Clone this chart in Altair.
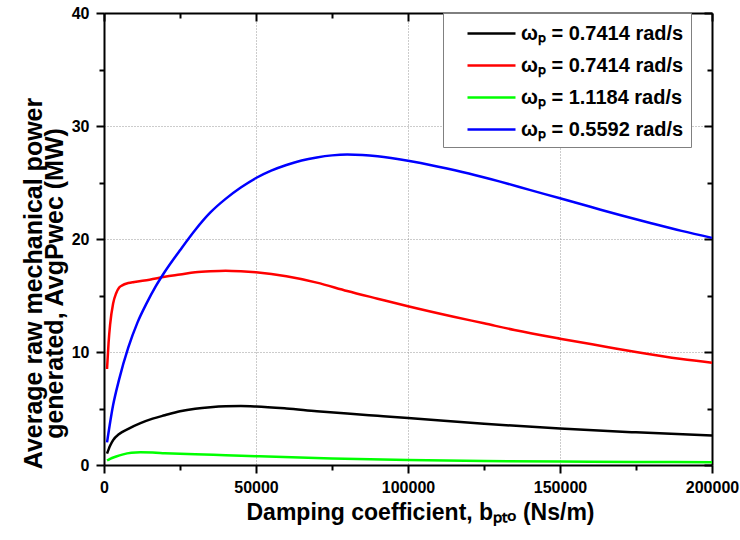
import altair as alt
import pandas as pd

# Damping coefficient b_pto (Ns/m) and average mechanical power (MW) for each sea state
b_black = [1000, 2000, 3000, 5000, 8000, 12000, 16000, 20000, 25000, 30000, 35000, 40000,
           45000, 50000, 60000, 70000, 80000, 90000, 100000, 125000, 150000, 175000, 200000]
p_black = [1.0, 1.7, 2.2, 2.75, 3.2, 3.7, 4.1, 4.4, 4.75, 4.98, 5.12, 5.2,
           5.22, 5.18, 5.0, 4.76, 4.55, 4.36, 4.17, 3.65, 3.22, 2.89, 2.6]

b_red = [1000, 1500, 2000, 3000, 4000, 5000, 6000, 8000, 10000, 15000, 20000, 25000,
         30000, 35000, 40000, 45000, 50000, 60000, 70000, 80000, 90000, 100000, 115000,
         125000, 135000, 150000, 165000, 175000, 190000, 200000]
p_red = [8.5, 10.8, 12.4, 14.3, 15.2, 15.7, 15.9, 16.1, 16.2, 16.4, 16.65, 16.85,
         17.05, 17.15, 17.2, 17.15, 17.05, 16.7, 16.14, 15.4, 14.72, 14.05, 13.12,
         12.54, 11.95, 11.18, 10.47, 10.0, 9.38, 9.05]

b_green = [1000, 2000, 4000, 6000, 9000, 12000, 16000, 20000, 30000, 40000, 50000,
           75000, 100000, 125000, 150000, 175000, 200000]
p_green = [0.4, 0.55, 0.75, 0.92, 1.08, 1.12, 1.1, 1.05, 0.95, 0.87, 0.78,
           0.58, 0.44, 0.36, 0.30, 0.27, 0.24]

b_blue = [1000, 3000, 5000, 8000, 11000, 14000, 17000, 20000, 25000, 30000, 35000, 40000,
          45000, 50000, 55000, 60000, 65000, 70000, 75000, 80000, 85000, 90000, 100000,
          110000, 120000, 130000, 140000, 150000, 160000, 170000, 180000, 190000, 200000]
p_blue = [2.0, 5.3, 7.6, 10.4, 12.6, 14.3, 15.8, 17.1, 19.0, 20.8, 22.35, 23.55,
          24.55, 25.4, 26.05, 26.55, 26.95, 27.22, 27.4, 27.47, 27.43, 27.32, 26.93,
          26.4, 25.8, 25.1, 24.35, 23.6, 22.85, 22.1, 21.4, 20.72, 20.1]

series_keys = ["s1", "s2", "s3", "s4"]
series_labels = ["ωₚ = 0.7414 rad/s", "ωₚ = 0.7414 rad/s",
                 "ωₚ = 1.1184 rad/s", "ωₚ = 0.5592 rad/s"]
series_colors = ["#000000", "#ff0000", "#00ff00", "#0000ff"]

x_major = [0, 50000, 100000, 150000, 200000]
x_minor = [25000, 75000, 125000, 175000]
y_major = [0, 10, 20, 30, 40]
y_minor = [5, 15, 25, 35]

W, H = 608, 452
FONT = "Liberation Sans"
PAD_RIGHT = "\u00a0" * 4  # extra room on the right side of the legend box

frames = [
    pd.DataFrame({"b": b, "p": p, "series": k})
    for k, b, p in zip(series_keys,
                       [b_black, b_red, b_green, b_blue],
                       [p_black, p_red, p_green, p_blue])
]

x_scale = alt.Scale(domain=[0, 200000], nice=False, zero=False)
y_scale = alt.Scale(domain=[0, 40], nice=False)
color_scale = alt.Scale(domain=series_keys, range=series_colors)

label_expr = "[" + ",".join("'" + s + PAD_RIGHT + "'" for s in series_labels) + "][indexof([" + \
    ",".join("'" + k + "'" for k in series_keys) + "], datum.value)]"

# Wide horizontal line symbol (path units are scaled by sqrt(size)/2)
legend = alt.Legend(
    title=None, orient="none", legendX=339, legendY=0,
    symbolType="M-2,0H2", symbolSize=576, symbolStrokeWidth=2.5,
    symbolOffset=28, labelOffset=16,
    labelFont=FONT, labelFontWeight="bold", labelFontSize=20, labelColor="black",
    labelLimit=400, labelExpr=label_expr,
    strokeColor="#808080", fillColor="white", padding=7, rowPadding=8,
)

tick_common = dict(tickColor="black", tickWidth=2, domainColor="black", domainWidth=2)

# Main axes: labels, titles and dotted grid
ax_x_main = alt.Axis(orient="bottom", values=x_major, format="d", title="Damping coefficient, bₚₜₒ (Ns/m)",
                     grid=True, gridDash=[1, 2], gridColor="#999999", gridWidth=1,
                     tickSize=8, labelFont=FONT, labelFontWeight="bold", labelFontSize=16,
                     labelColor="black", labelPadding=6, labelFlush=False,
                     titleFont=FONT, titleFontWeight="bold", titleFontSize=23, titleColor="black",
                     titlePadding=6, titleX=316, **tick_common)
ax_y_main = alt.Axis(orient="left", values=y_major, format="d",
                     title=["Average raw mechanical power", "generated, AvgPwec (MW)"],
                     grid=True, gridDash=[1, 2], gridColor="#999999", gridWidth=1,
                     tickSize=8, labelFont=FONT, labelFontWeight="bold", labelFontSize=16,
                     labelColor="black", labelPadding=7, labelFlush=False,
                     titleFont=FONT, titleFontWeight="bold", titleFontSize=25, titleColor="black",
                     titleLineHeight=21, titlePadding=4, titleY=270, **tick_common)
# Minor ticks on bottom / left
ax_x_minor = alt.Axis(orient="bottom", values=x_minor, labels=False, title=None, grid=False,
                      domain=False, tickSize=5, **tick_common)
ax_y_minor = alt.Axis(orient="left", values=y_minor, labels=False, title=None, grid=False,
                      domain=False, tickSize=5, **tick_common)
# Mirrored frame on top / right with inward ticks
ax_x_top = alt.Axis(orient="bottom", offset=-H, values=x_major, labels=False, title=None,
                    grid=False, domain=True, tickSize=8, **tick_common)
ax_y_right = alt.Axis(orient="left", offset=-W, values=y_major, labels=False, title=None,
                      grid=False, domain=True, tickSize=8, **tick_common)
ax_x_top_minor = alt.Axis(orient="bottom", offset=-H, values=x_minor, labels=False, title=None,
                          grid=False, domain=False, tickSize=5, **tick_common)
ax_y_right_minor = alt.Axis(orient="left", offset=-W, values=y_minor, labels=False, title=None,
                            grid=False, domain=False, tickSize=5, **tick_common)

axis_pairs = [
    (ax_x_main, ax_y_main),
    (ax_x_minor, ax_y_minor),
    (ax_x_top, ax_y_right),
    (ax_x_top_minor, ax_y_right_minor),
]


def series_layer(df, xa, ya):
    return alt.Chart(df).mark_line(strokeWidth=2.5, interpolate="monotone").encode(
        x=alt.X("b:Q", scale=x_scale, axis=xa),
        y=alt.Y("p:Q", scale=y_scale, axis=ya),
        color=alt.Color("series:N", scale=color_scale, legend=legend),
    )


layers = [series_layer(df, xa, ya) for df, (xa, ya) in zip(frames, axis_pairs)]

chart = alt.layer(*layers).resolve_axis(x="independent", y="independent").properties(
    width=W, height=H,
    autosize=alt.AutoSizeParams(type="none"),
    padding={"left": 104, "top": 13, "right": 28, "bottom": 75},
    background="white",
).configure_view(stroke=None)

chart.save("out.html", embed_options={"renderer": "svg", "actions": False})
